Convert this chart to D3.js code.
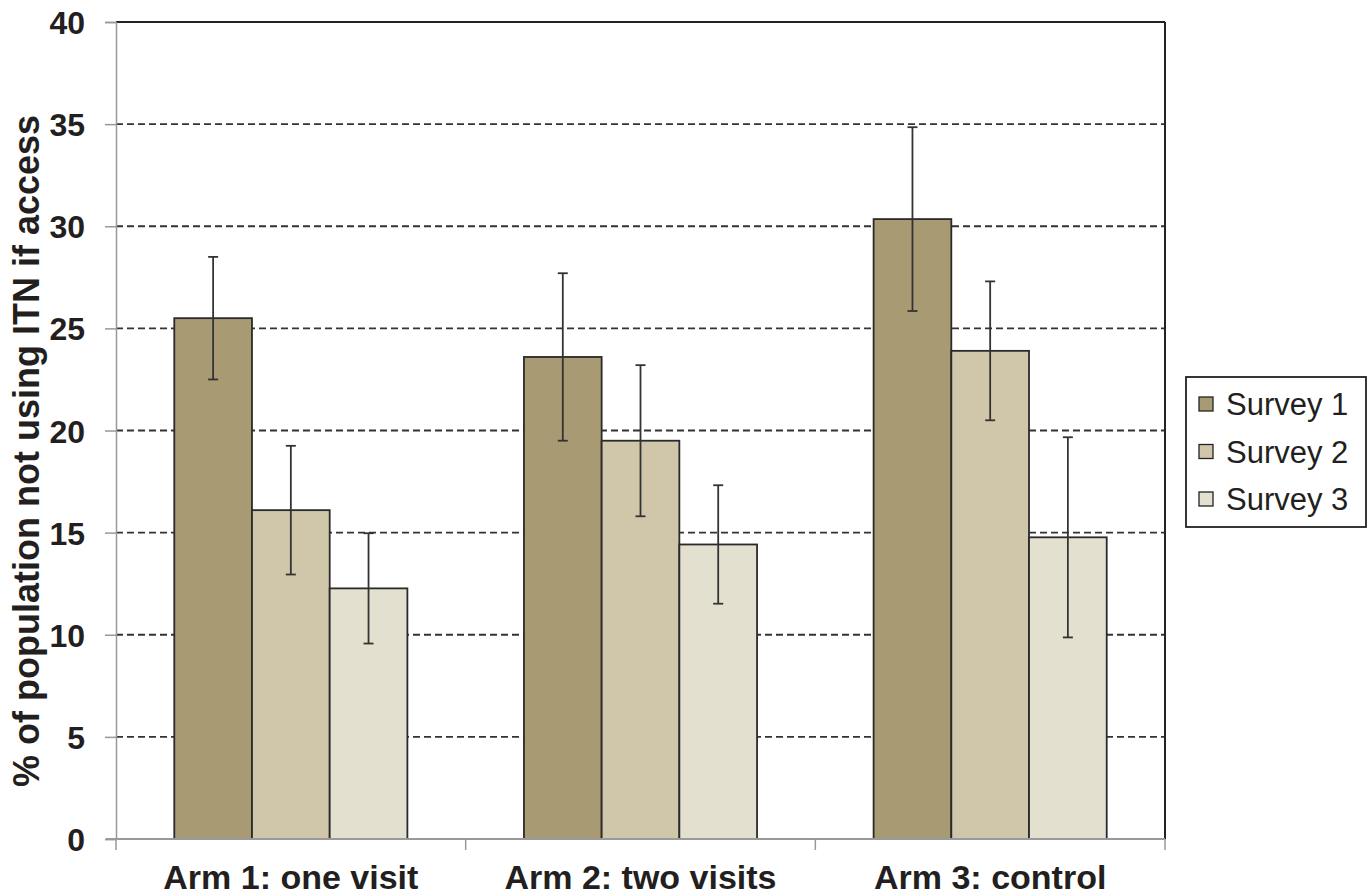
<!DOCTYPE html>
<html><head><meta charset="utf-8">
<script src="https://cdn.jsdelivr.net/npm/d3@7"></script>
<style>
body{margin:0;background:#fff;}
svg{display:block;font-family:"Liberation Sans",Arial,sans-serif;}
</style></head>
<body><svg id="c" width="1372" height="896"></svg>
<script>
const categories = ["Arm 1: one visit", "Arm 2: two visits", "Arm 3: control"];
const series = ["Survey 1", "Survey 2", "Survey 3"];
const survey1 = [25.5, 23.6, 30.35];
const survey2 = [16.1, 19.5, 23.9];
const survey3 = [12.27, 14.42, 14.77];
const err1 = [3.0, 4.1, 4.5];
const err2 = [3.15, 3.7, 3.4];
const err3 = [2.7, 2.9, 4.9];
const yTicks = [0, 5, 10, 15, 20, 25, 30, 35, 40];
const colors = ["#a89a72", "#d0c6aa", "#e3e0cf"];

const values = [survey1, survey2, survey3];
const errors = [err1, err2, err3];

const svg = d3.select("#c");
const L = 116, R = 1165, T = 22, B = 839;

const x0 = d3.scaleBand().domain(categories).range([L, R]).padding(0);
const x1 = d3.scaleBand().domain(series).range([0, x0.bandwidth()]).paddingInner(0).paddingOuter(0.75);
const y = d3.scaleLinear().domain([0, 40]).range([B, T]);

// gridlines
svg.append("g").selectAll("line").data(yTicks.filter(d => d > 0 && d < 40)).join("line")
  .attr("x1", L).attr("x2", R).attr("y1", d => y(d)).attr("y2", d => y(d))
  .attr("stroke", "#333").attr("stroke-width", 1.8).attr("stroke-dasharray", "7,4");

// frame top/right
svg.append("line").attr("x1", L).attr("x2", R).attr("y1", T).attr("y2", T).attr("stroke", "#222").attr("stroke-width", 2);
svg.append("line").attr("x1", R).attr("x2", R).attr("y1", T).attr("y2", B).attr("stroke", "#222").attr("stroke-width", 2);

// bars
const rows = [];
categories.forEach((c, i) => series.forEach((s, j) => rows.push({c, s, j, v: values[j][i], e: errors[j][i]})));

svg.append("g").selectAll("rect").data(rows).join("rect")
  .attr("x", d => x0(d.c) + x1(d.s))
  .attr("y", d => y(d.v))
  .attr("width", x1.bandwidth())
  .attr("height", d => y(0) - y(d.v))
  .attr("fill", d => colors[d.j])
  .attr("stroke", "#2a2a2a").attr("stroke-width", 1.8);

// error bars
const eg = svg.append("g").attr("stroke", "#333").attr("stroke-width", 1.8);
rows.forEach(d => {
  const cx = x0(d.c) + x1(d.s) + x1.bandwidth() / 2;
  eg.append("line").attr("x1", cx).attr("x2", cx).attr("y1", y(d.v + d.e)).attr("y2", y(d.v - d.e));
  [d.v + d.e, d.v - d.e].forEach(v => eg.append("line").attr("x1", cx - 5).attr("x2", cx + 5).attr("y1", y(v)).attr("y2", y(v)));
});

// y axis
const ya = svg.append("g").attr("transform", `translate(${L},0)`)
  .call(d3.axisLeft(y).tickValues(yTicks).tickSize(11).tickPadding(20));
ya.select(".domain").attr("stroke", "#999").attr("stroke-width", 1.5);
ya.selectAll(".tick line").attr("stroke", "#999").attr("stroke-width", 1.5);
ya.selectAll(".tick text").attr("fill", "#231f20").attr("dy", "0.36em").style("font-size", "32px").style("font-weight", "bold")
  .style("font-family", "'Liberation Sans',Arial,sans-serif");

// x axis
const xa = svg.append("g").attr("transform", `translate(0,${B})`);
xa.append("line").attr("x1", L - 10).attr("x2", R).attr("y1", 0).attr("y2", 0).attr("stroke", "#999").attr("stroke-width", 2);
const bounds = categories.map(c => x0(c)).concat([R]);
xa.selectAll("line.t").data(bounds).join("line").attr("class", "t")
  .attr("x1", d => d).attr("x2", d => d).attr("y1", 0).attr("y2", 11).attr("stroke", "#999").attr("stroke-width", 1.5);
xa.selectAll("text").data(categories).join("text")
  .attr("x", d => x0(d) + x0.bandwidth() / 2).attr("y", 50)
  .attr("text-anchor", "middle").attr("fill", "#231f20")
  .style("font-size", "34px").style("font-weight", "bold").text(d => d);

// y title
svg.append("text").attr("transform", `translate(39,451) rotate(-90)`)
  .attr("text-anchor", "middle").attr("fill", "#231f20")
  .style("font-size", "36px").style("font-weight", "bold")
  .text("% of population not using ITN if access");

// legend
const lg = svg.append("g").attr("transform", "translate(1186,377)");
lg.append("rect").attr("width", 180).attr("height", 150).attr("fill", "#fff").attr("stroke", "#222").attr("stroke-width", 1.8);
series.forEach((s, j) => {
  const yy = 27 + j * 47.5;
  lg.append("rect").attr("x", 13).attr("y", yy - 7).attr("width", 14).attr("height", 14)
    .attr("fill", colors[j]).attr("stroke", "#222").attr("stroke-width", 1.3);
  lg.append("text").attr("x", 40).attr("y", yy + 11).attr("fill", "#231f20")
    .style("font-size", "31px").text(s);
});
</script></body></html>
